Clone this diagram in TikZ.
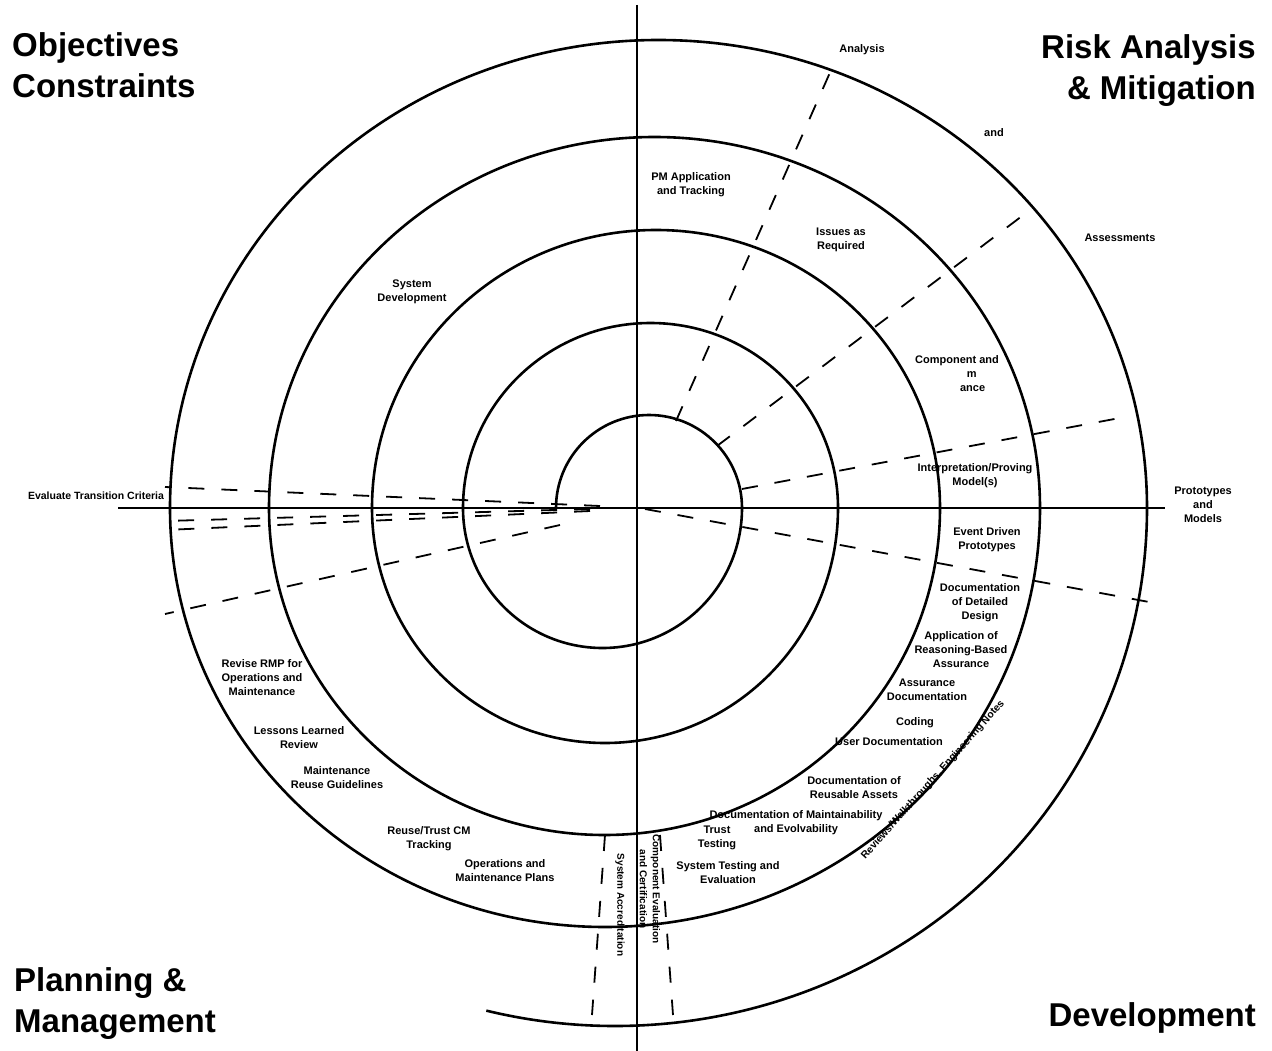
\documentclass[tikz,border=0pt]{standalone}
\usepackage{fontspec}
\setmainfont{Liberation Sans}
\begin{document}
\begin{tikzpicture}[x=1pt,y=-1pt,
  big/.style={font=\fontsize{33}{40}\selectfont\bfseries, inner sep=0pt},
  lab/.style={font=\fontsize{11}{14}\selectfont\bfseries, align=center, inner sep=0pt},
  spiral/.style={line width=2.6pt},
  axisline/.style={line width=1.8pt},
  dashline/.style={line width=1.8pt, dash pattern=on 16pt off 17pt}]
\useasboundingbox (0,0) rectangle (1272,1051);
% axes
\coordinate (O) at (637,508);
\coordinate (vtop) at (637,5);
\coordinate (vbot) at (637,1051);
\coordinate (hl) at (118,508);
\coordinate (hr) at (1165,508);
\draw[axisline] (vtop) -- (vbot);
\draw[axisline] (hl) -- (hr);
% spiral
\coordinate (s0) at (556,508);
\draw[spiral] (s0)
  arc[start angle=180,end angle=360,x radius=93,y radius=93]
  arc[start angle=0,end angle=180,x radius=139.5,y radius=140]
  arc[start angle=180,end angle=360,x radius=187.5,y radius=185]
  arc[start angle=0,end angle=180,x radius=233,y radius=235]
  arc[start angle=180,end angle=360,x radius=284,y radius=278]
  arc[start angle=0,end angle=180,x radius=335.5,y radius=327]
  arc[start angle=180,end angle=360,x radius=385.5,y radius=371]
  arc[start angle=0,end angle=180,x radius=435,y radius=419]
  arc[start angle=180,end angle=360,x radius=488.5,y radius=468]
  arc[start angle=0,end angle=104,x radius=532,y radius=518];
% dashed radial lines
\coordinate (d1a) at (676,421); \coordinate (d1b) at (832,68);
\coordinate (d2a) at (717,446); \coordinate (d2b) at (1030,210);
\coordinate (d3a) at (742,489); \coordinate (d3b) at (1125,417);
\coordinate (d4a) at (645,509); \coordinate (d4b) at (1160,604);
\coordinate (l1a) at (600,506); \coordinate (l1b) at (165,487);
\coordinate (l2a) at (590,509); \coordinate (l2b) at (165,521);
\coordinate (l3a) at (590,511); \coordinate (l3b) at (165,530);
\coordinate (l4a) at (560,525); \coordinate (l4b) at (165,614);
\coordinate (b1a) at (605,835); \coordinate (b1b) at (592,1015);
\coordinate (b2a) at (660,835); \coordinate (b2b) at (673,1015);
\foreach \a/\b in {d1a/d1b,d2a/d2b,d3a/d3b,d4a/d4b,l1a/l1b,l2a/l2b,l3a/l3b,l4a/l4b,b1a/b1b,b2a/b2b}
  \draw[dashline] (\a) -- (\b);
% big labels
\node[big, anchor=base west] (obj) at (12,57) {Objectives};
\node[big, anchor=base west] (con) at (12,98) {Constraints};
\node[big, anchor=base east] (risk) at (1256,59) {Risk Analysis};
\node[big, anchor=base east] (mit) at (1256,100) {\& Mitigation};
\node[big, anchor=base west] (plan) at (14,991) {Planning \&};
\node[big, anchor=base west] (man) at (14,1032) {Management};
\node[big, anchor=base east] (dev) at (1256,1026) {Development};
% small labels
\node[lab] (analysis) at (862,50) {Analysis};
\node[lab] (and) at (994,133) {and};
\node[lab] (assess) at (1120,238) {Assessments};
\node[lab] (pm) at (691,185) {PM Application\\and Tracking};
\node[lab] (issues) at (841,240) {Issues as\\Required};
\node[lab] (sysdev) at (412,292) {System\\Development};
\node[lab] (comp) at (957,374) {Component and\\\phantom{Syste}m\\\phantom{Assur}ance};
\node[lab] (interp) at (975,476) {Interpretation/Proving\\Model(s)};
\node[lab] (proto) at (1203,505) {Prototypes\\and\\Models};
\node[lab, font=\fontsize{10.5}{13}\selectfont\bfseries] (eval) at (96,496) {Evaluate Transition Criteria};
\node[lab] (event) at (987,540) {Event Driven\\Prototypes};
\node[lab] (docdd) at (980,603) {Documentation\\of Detailed\\Design};
\node[lab] (appl) at (961,650) {Application of\\Reasoning-Based\\Assurance};
\node[lab] (assdoc) at (927,690) {Assurance\\Documentation};
\node[lab] (coding) at (915,723) {Coding};
\node[lab] (userdoc) at (889,742) {User Documentation};
\node[lab] (docra) at (854,788) {Documentation of\\Reusable Assets};
\node[lab] (docme) at (796,823) {Documentation of Maintainability\\and Evolvability};
\node[lab] (trust) at (717,838) {Trust\\Testing};
\node[lab] (systest) at (728,873) {System Testing and\\Evaluation};
\node[lab, rotate=48.2, font=\fontsize{10.3}{13}\selectfont\bfseries] (reviews) at (933,780) {Reviews/Walkthroughs, Engineering Notes};
\node[lab] (revise) at (262,678) {Revise RMP for\\Operations and\\Maintenance};
\node[lab] (lessons) at (299,738) {Lessons Learned\\Review};
\node[lab] (maint) at (337,778) {Maintenance\\Reuse Guidelines};
\node[lab] (reuse) at (429,839) {Reuse/Trust CM\\Tracking};
\node[lab] (ops) at (505,871) {Operations and\\Maintenance Plans};
\node[lab, rotate=-90, font=\fontsize{10}{13}\selectfont\bfseries] (sysacc) at (620,905) {System Accreditation};
\node[lab, rotate=-90, font=\fontsize{10}{13}\selectfont\bfseries] (compeval) at (650,889) {Component Evaluation\\and Certification};
\end{tikzpicture}
\end{document}
